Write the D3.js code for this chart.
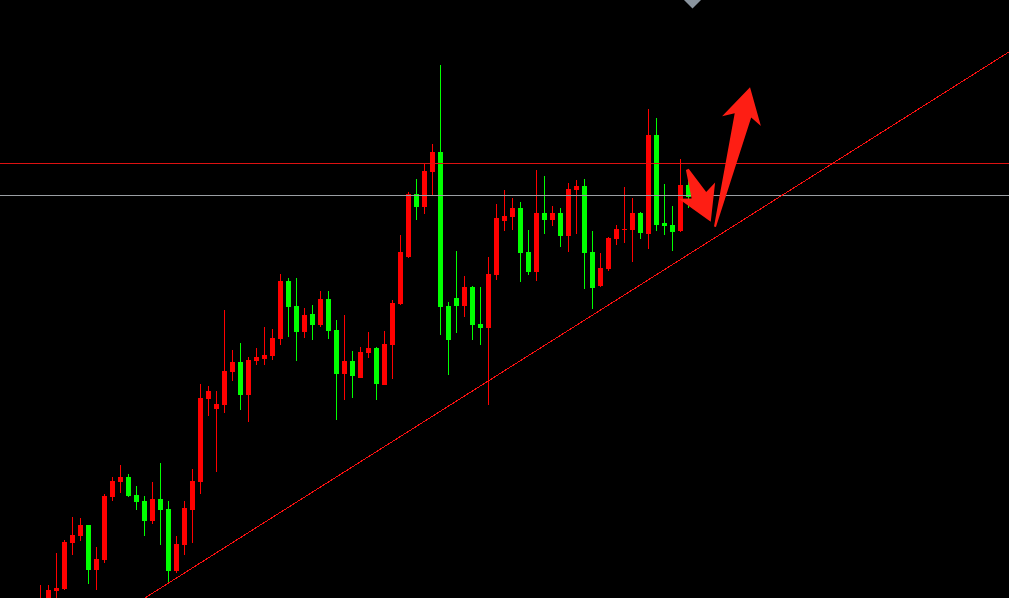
<!DOCTYPE html>
<html>
<head>
<meta charset="utf-8">
<script src="https://cdn.jsdelivr.net/npm/d3@7"></script>
<style>
  html, body { margin: 0; padding: 0; background: #000; overflow: hidden; }
  svg { display: block; }
</style>
</head>
<body>
<svg id="chart" width="1009" height="598"></svg>
<script>
// Daily OHLC bars, oldest first
const open  = [2394,2396,2409,2411,2457,2464,2475,2430,2440,2503,2518,2523,2505,2499,2479,2501,2491,2429,2455,2490,
               2518,2601,2591,2595,2628,2638,2605,2639,2641,2644,2661,2719,2694,2668,2686,2675,2701,2670,2626,2639,
               2622,2647,2652,2615,2655,2696,2743,2806,2793,2828,2848,2694,2702,2694,2713,2676,2672,2725,2779,2783,
               2792,2748,2728,2787,2780,2787,2764,2810,2814,2748,2714,2731,2761,2770,2770,2787,2766,2865,2777,2775,
               2769,2815];
const high  = [2415,2415,2447,2460,2483,2482,2475,2453,2506,2523,2535,2526,2514,2504,2518,2537,2499,2464,2499,2531,
               2616,2614,2609,2690,2650,2657,2643,2652,2673,2671,2726,2722,2722,2692,2695,2709,2709,2680,2685,2649,
               2653,2668,2653,2669,2700,2765,2808,2821,2836,2856,2935,2698,2749,2724,2714,2713,2743,2796,2810,2802,
               2798,2770,2830,2824,2794,2792,2817,2820,2821,2769,2747,2763,2775,2813,2802,2788,2891,2882,2816,2794,
               2841,2825];
const low   = [2388,2392,2400,2410,2445,2459,2416,2410,2437,2499,2507,2503,2490,2464,2476,2455,2416,2427,2445,2457,
               2506,2584,2528,2587,2619,2590,2578,2635,2635,2640,2655,2663,2639,2662,2660,2673,2661,2580,2600,2602,
               2622,2642,2600,2615,2621,2695,2742,2780,2786,2804,2665,2625,2667,2683,2660,2655,2595,2720,2769,2770,
               2718,2725,2719,2766,2774,2753,2748,2766,2711,2691,2713,2729,2755,2757,2738,2761,2751,2769,2765,2749,
               2768,2792];
const close = [2400,2410,2412,2458,2465,2475,2430,2441,2504,2519,2523,2504,2498,2479,2501,2490,2429,2456,2492,2519,
               2602,2609,2596,2629,2638,2605,2640,2643,2645,2662,2719,2693,2668,2685,2675,2701,2669,2626,2639,2624,
               2648,2652,2616,2656,2697,2748,2806,2793,2829,2848,2693,2660,2694,2713,2675,2672,2726,2782,2784,2792,
               2747,2728,2787,2780,2787,2764,2811,2814,2747,2712,2732,2762,2771,2771,2787,2767,2865,2775,2774,2768,
               2815,2803];

// Horizontal price levels
const levelPrices = [2837, 2805];
const levelColors = ["#dd1111", "#9a9ea3"];

// Rising support line, given by two anchors (bar index, price)
const trendIdx   = [13.3, 121.1];
const trendPrice = [2403.3, 2948.3];

// Annotation arrows: tail -> tip, in (bar index, price)
const arrowTailIdx   = [80.85, 84.31];
const arrowTailPrice = [2830.7, 2773.3];
const arrowTipIdx    = [83.78, 88.69];
const arrowTipPrice  = [2778.3, 2912.7];

const W = 1009, H = 598;
const svg = d3.select("#chart");
svg.append("rect").attr("width", W).attr("height", H).attr("fill", "#000");

const n = open.length;
const x = d3.scaleLinear().domain([0, n - 1]).range([40.5, 40.5 + 8 * (n - 1)]);
const y = d3.scaleLinear().domain([2400, 3000]).range([600, 0]);

const UP = "#ff0000", DOWN = "#00ff00";
const bars = d3.range(n).map(i => ({ i, o: open[i], h: high[i], l: low[i], c: close[i] }));
const col = d => d.c >= d.o ? UP : DOWN;

const g = svg.append("g").attr("shape-rendering", "crispEdges");

// wicks
g.selectAll("line.wick").data(bars).join("line")
  .attr("class", "wick")
  .attr("x1", d => x(d.i)).attr("x2", d => x(d.i))
  .attr("y1", d => y(d.h)).attr("y2", d => y(d.l))
  .attr("stroke", col).attr("stroke-width", 1);

// bodies
g.selectAll("rect.body").data(bars).join("rect")
  .attr("class", "body")
  .attr("x", d => x(d.i) - 2.5)
  .attr("width", 5)
  .attr("y", d => y(Math.max(d.o, d.c)))
  .attr("height", d => Math.max(1, Math.abs(y(d.o) - y(d.c))))
  .attr("fill", col);

// horizontal levels
g.selectAll("line.level").data(levelPrices).join("line")
  .attr("class", "level")
  .attr("x1", 0).attr("x2", W)
  .attr("y1", d => y(d) + 0.5).attr("y2", d => y(d) + 0.5)
  .attr("stroke", (d, k) => levelColors[k]).attr("stroke-width", 1);

// support line, extended across the plot
const slope = (trendPrice[1] - trendPrice[0]) / (trendIdx[1] - trendIdx[0]);
const tp = i => trendPrice[0] + (i - trendIdx[0]) * slope;
const tStart = -10, tEnd = 130;
g.append("line")
  .attr("x1", x(tStart)).attr("y1", y(tp(tStart)))
  .attr("x2", x(tEnd)).attr("y2", y(tp(tEnd)))
  .attr("stroke", "#ff1010").attr("stroke-width", 1);

// notched arrow polygon built along the tail->tip axis
function arrowPoints(tx, ty, hx, hy, opt) {
  const dx = hx - tx, dy = hy - ty, L = Math.hypot(dx, dy);
  const ux = dx / L, uy = dy / L, nx = -uy, ny = ux;
  const P = (a, b) => [hx + ux * a + nx * b, hy + uy * a + ny * b];
  return [
    P(-L, -opt.tail), P(-opt.notch, -opt.shaft), P(-opt.head, -opt.wing),
    P(0, 0),
    P(-opt.head, opt.wing), P(-opt.notch, opt.shaft), P(-L, opt.tail)
  ];
}
const arrowShape = [
  { head: 34, wing: 20, notch: 29, shaft: 8, tail: 1.5 },
  { head: 35, wing: 20, notch: 29, shaft: 8.5, tail: 1 }
];
const poly = d3.line().curve(d3.curveLinearClosed);
svg.selectAll("path.arrow").data(arrowTipIdx).join("path")
  .attr("class", "arrow")
  .attr("d", (d, k) => poly(arrowPoints(
    x(arrowTailIdx[k]), y(arrowTailPrice[k]),
    x(arrowTipIdx[k]), y(arrowTipPrice[k]), arrowShape[k])))
  .attr("fill", "#fe1e14");

// latest-bar marker at the top edge
const mx = x(n - 0.5);
svg.append("path")
  .attr("d", d3.line()([[mx - 9.5, -1], [mx + 9.5, -1], [mx, 8.5]]) + "Z")
  .attr("fill", "#8a949e");
</script>
</body>
</html>
